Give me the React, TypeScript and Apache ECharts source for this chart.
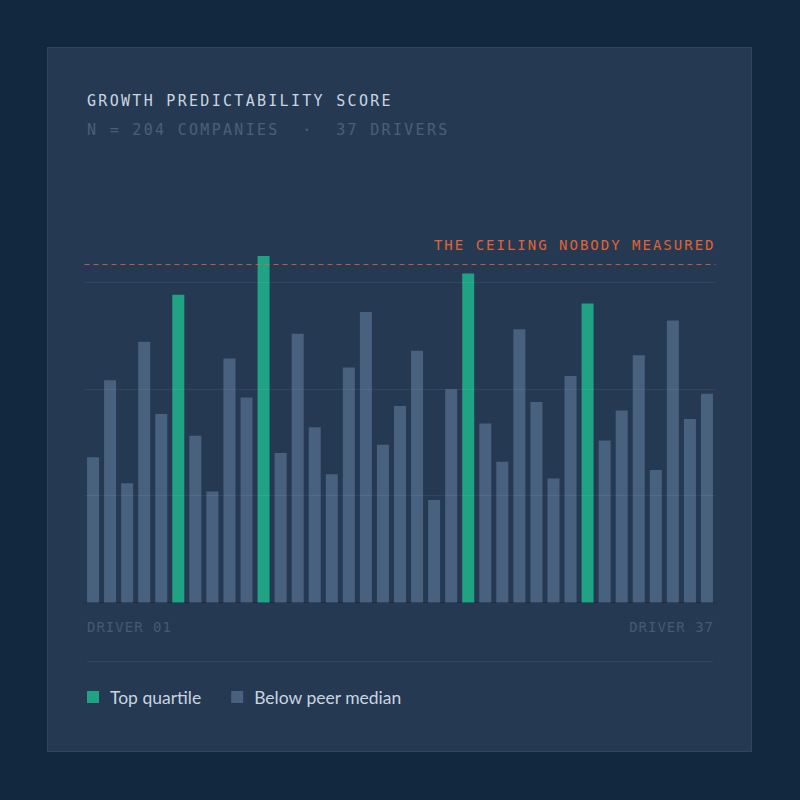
import React from 'react';
import * as echarts from 'echarts';

const DRIVERS = [
  'Driver 01', 'Driver 02', 'Driver 03', 'Driver 04', 'Driver 05', 'Driver 06', 'Driver 07', 'Driver 08',
  'Driver 09', 'Driver 10', 'Driver 11', 'Driver 12', 'Driver 13', 'Driver 14', 'Driver 15', 'Driver 16',
  'Driver 17', 'Driver 18', 'Driver 19', 'Driver 20', 'Driver 21', 'Driver 22', 'Driver 23', 'Driver 24',
  'Driver 25', 'Driver 26', 'Driver 27', 'Driver 28', 'Driver 29', 'Driver 30', 'Driver 31', 'Driver 32',
  'Driver 33', 'Driver 34', 'Driver 35', 'Driver 36', 'Driver 37',
];

const SCORES = [
  40.8, 62.4, 33.5, 73.2, 52.9, 86.4, 46.8, 31.2, 68.5, 57.6,
  97.3, 42.0, 75.5, 49.2, 36.0, 66.0, 81.6, 44.3, 55.2, 70.7,
  28.8, 59.9, 92.4, 50.3, 39.5, 76.7, 56.3, 34.8, 63.6, 84.0,
  45.5, 53.9, 69.4, 37.2, 79.2, 51.5, 58.6,
];

const TOP_QUARTILE = ['Driver 06', 'Driver 11', 'Driver 23', 'Driver 30'];

const GRID_LINES = [30, 60, 90];
const CEILING = 95;
const CEILING_LABEL = 'THE CEILING NOBODY MEASURED';

const GREEN = '#1fa383';
const SLATE = '#48617e';
const MONO = '"DejaVu Sans Mono", "Liberation Mono", monospace';
const SANS = 'Lato, "Open Sans", "Noto Sans", sans-serif';

const App: React.FC = () => {
  const chartRef = React.useRef<HTMLDivElement>(null);

  React.useEffect(() => {
    if (!chartRef.current) return;
    const chart = echarts.init(chartRef.current, null, { renderer: 'svg' });

    const topData = SCORES.map((v, i) => (TOP_QUARTILE.includes(DRIVERS[i]) ? v : '-'));
    const restData = SCORES.map((v, i) => (TOP_QUARTILE.includes(DRIVERS[i]) ? '-' : v));

    chart.setOption({
      animation: false,
      grid: { left: 84.5, right: 84.5, top: 246.4, bottom: 197.5 },
      xAxis: {
        type: 'category',
        data: DRIVERS,
        axisLine: { show: true, lineStyle: { color: 'rgba(10,20,35,0.35)', width: 1 } },
        axisTick: { show: false },
        axisLabel: { show: false },
        splitLine: { show: false },
      },
      yAxis: {
        type: 'value',
        min: 0,
        max: 100,
        show: false,
        splitLine: { show: false },
      },
      legend: {
        left: 87,
        top: 688,
        padding: 0,
        icon: 'rect',
        itemWidth: 12,
        itemHeight: 12,
        itemGap: 30,
        textStyle: {
          color: '#c9d4e0',
          fontFamily: SANS,
          fontSize: 17.5,
          padding: [0, 0, 0, 6],
        },
        data: ['Top quartile', 'Below peer median'],
      },
      series: [
        {
          name: 'Top quartile',
          type: 'bar',
          stack: 'score',
          barWidth: 12,
          data: topData,
          itemStyle: { color: GREEN },
          markLine: {
            silent: true,
            symbol: 'none',
            lineStyle: { color: 'rgba(255,255,255,0.06)', type: 'solid', width: 1 },
            label: { show: false },
            data: GRID_LINES.map(v => ({ yAxis: v })),
          },
        },
        {
          name: 'Below peer median',
          type: 'bar',
          stack: 'score',
          barWidth: 12,
          data: restData,
          itemStyle: { color: SLATE },
          markLine: {
            silent: true,
            symbol: 'none',
            lineStyle: { color: 'rgba(232,98,44,0.8)', type: [5, 4], width: 1 },
            label: {
              show: true,
              position: 'insideEndTop',
              distance: [0, 12],
              formatter: CEILING_LABEL,
              color: '#e4622f',
              fontFamily: MONO,
              fontSize: 14,
            },
            data: [{ yAxis: CEILING }],
          },
        },
      ],
    });

    // zrender has no letter-spacing, so set it on the rendered svg text
    const spaceLabel = () => {
      chart.getDom().querySelectorAll('text').forEach(t => {
        if (t.textContent === CEILING_LABEL) {
          t.setAttribute('letter-spacing', '2');
        }
      });
    };
    spaceLabel();
    chart.on('finished', spaceLabel);

    return () => {
      chart.dispose();
    };
  }, []);

  const monoText = (extra: React.CSSProperties): React.CSSProperties => ({
    position: 'absolute',
    fontFamily: MONO,
    whiteSpace: 'pre',
    lineHeight: '20px',
    ...extra,
  });

  return (
    <div style={{ position: 'fixed', left: 0, top: 0, width: 800, height: 800, background: '#12283f', overflow: 'hidden' }}>
      <div
        style={{
          position: 'absolute',
          left: 47,
          top: 47,
          width: 703,
          height: 703,
          background: '#253a52',
          border: '1px solid #2f4560',
        }}
      />
      <div style={monoText({ left: 87, top: 91, fontSize: 15, letterSpacing: '2.3px', color: '#cbd5e0' })}>
        GROWTH PREDICTABILITY SCORE
      </div>
      <div style={monoText({ left: 87, top: 120, fontSize: 15, letterSpacing: '2.3px', color: '#4a6079' })}>
        {'N = 204 COMPANIES  ·  37 DRIVERS'}
      </div>
      <div style={monoText({ left: 87, top: 617, fontSize: 14, letterSpacing: '1px', color: '#435a73' })}>
        {DRIVERS[0].toUpperCase()}
      </div>
      <div style={monoText({ right: 87, top: 617, fontSize: 14, letterSpacing: '1px', color: '#435a73', marginRight: -1 })}>
        {DRIVERS[DRIVERS.length - 1].toUpperCase()}
      </div>
      <div style={{ position: 'absolute', left: 87, top: 661, width: 626, height: 1, background: '#2f4560' }} />
      <div ref={chartRef} style={{ position: 'absolute', left: 0, top: 0, width: 800, height: 800 }} />
    </div>
  );
};

export default App;
